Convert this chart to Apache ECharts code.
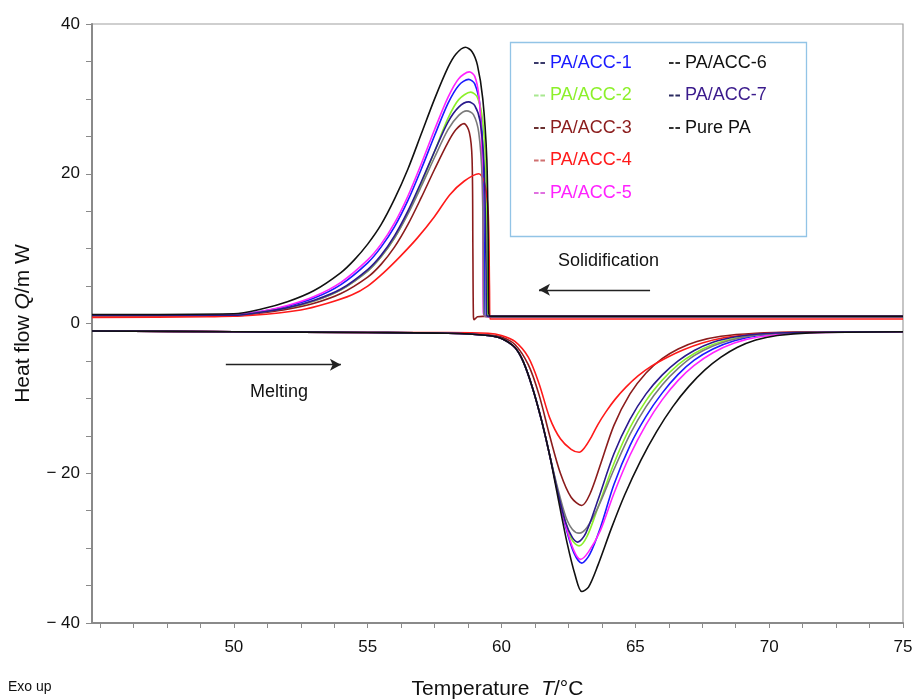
<!DOCTYPE html>
<html>
<head>
<meta charset="utf-8">
<script src="https://cdn.jsdelivr.net/npm/echarts@6/dist/echarts.min.js"></script>
<style>html,body{margin:0;padding:0;background:#fff}#chart{width:915px;height:699px}</style>
</head>
<body>
<div id="chart"></div>
<script>
// ---- Data (Temperature °C, Heat flow mW) ----
const seriesNames = ['PA/ACC-1','PA/ACC-2','PA/ACC-3','PA/ACC-4','PA/ACC-5','PA/ACC-6','PA/ACC-7','Pure PA'];
const xLabelValues = [50,55,60,65,70,75];
const yLabelValues = [-40,-20,0,20,40];

// Solidification (cooling) curves
const solid_ACC1 = [[44.7,1.1],[50,1.2],[51,1.6],[52,2.3],[53,3.4],[54,5.2],[55,8.1],[55.5,10.2],[56,12.9],[56.5,16.4],[57,20.6],[57.5,25.1],[58,29.4],[58.4,31.8],[58.77,32.6],[59.0,32.0],[59.2,29],[59.3,23],[59.35,12],[59.37,1.2],[59.45,0.95],[75,0.95]];
const solid_ACC2 = [[44.7,1.1],[50,1.1],[51,1.5],[52,2.0],[53,3.0],[54,4.5],[55,7.0],[55.5,8.9],[56,11.4],[56.5,14.7],[57,18.7],[57.5,23.0],[58,27.4],[58.4,29.9],[58.85,30.9],[59.1,30.2],[59.3,27],[59.42,20],[59.46,8],[59.48,1.2],[59.55,0.95],[75,0.95]];
const solid_ACC3 = [[44.7,1.0],[50,1.0],[51,1.4],[52,1.9],[53,2.7],[54,4.0],[55,6.2],[55.5,7.9],[56,10.2],[56.5,13.2],[57,16.8],[57.5,20.6],[58,24.2],[58.3,25.9],[58.6,26.7],[58.8,25.5],[58.9,22],[58.93,10],[58.95,1.0],[58.98,0.5],[59.1,0.9],[59.3,0.95],[75,0.95]];
const solid_ACC4 = [[44.7,0.8],[49,0.9],[50.7,1.1],[52.5,1.8],[53.5,2.7],[54.4,3.8],[55,5.0],[55.6,6.8],[56.2,8.9],[56.85,11.4],[57.5,14.3],[58.07,17.2],[58.6,19.0],[59.15,20.0],[59.35,19],[59.5,15],[59.55,5],[59.57,0.6],[75,0.6]];
const solid_ACC5 = [[44.7,1.1],[50,1.2],[51,1.6],[52,2.4],[53,3.6],[54,5.5],[55,8.5],[55.5,10.6],[56,13.4],[56.5,17.0],[57,21.3],[57.5,25.9],[58,30.2],[58.4,32.7],[58.8,33.6],[59.0,33.0],[59.15,30.5],[59.25,25],[59.3,15],[59.32,1.5],[59.4,0.95],[75,0.95]];
const solid_ACC6 = [[44.7,1.1],[50,1.1],[51,1.5],[52,2.1],[53,3.0],[54,4.5],[55,7.0],[55.5,8.9],[56,11.4],[56.5,14.6],[57,18.3],[57.5,22.2],[58,25.9],[58.4,27.8],[58.7,28.4],[58.95,27.9],[59.15,25.5],[59.28,19],[59.32,8],[59.34,1.2],[59.4,0.95],[75,0.95]];
const solid_ACC7 = [[44.7,1.1],[50,1.1],[51,1.5],[52,2.1],[53,3.1],[54,4.6],[55,7.2],[55.5,9.1],[56,11.7],[56.5,15.0],[57,18.9],[57.5,23.0],[58,26.9],[58.4,28.9],[58.77,29.6],[59.0,29.1],[59.2,27],[59.35,21],[59.42,8],[59.44,1.2],[59.5,0.95],[75,0.95]];
const solid_PA   = [[44.7,1.2],[50,1.3],[51,1.9],[52,2.9],[53,4.4],[54,6.8],[54.5,8.5],[55,10.6],[55.5,13.2],[56,16.6],[56.5,20.6],[57,25.3],[57.5,30.0],[58,34.2],[58.3,36.0],[58.65,36.9],[58.9,36.3],[59.1,34.5],[59.3,30],[59.45,22],[59.5,12],[59.52,1.5],[59.6,0.95],[75,0.95]];

// Melting (heating) curves
const melt_ACC1 = [[44.7,-1.0],[50,-1.1],[55,-1.2],[58,-1.3],[59.5,-1.6],[60,-2.0],[60.5,-3.2],[60.8,-5],[61.15,-8.5],[61.5,-13],[61.8,-17.6],[62.1,-22.5],[62.4,-27.2],[62.7,-30.6],[63.0,-32],[63.3,-30.8],[63.7,-27.2],[64.2,-21.5],[64.8,-16.3],[65.4,-12.4],[66.0,-9.3],[66.6,-6.8],[67.2,-4.9],[67.9,-3.4],[68.7,-2.3],[69.6,-1.6],[71,-1.2],[75,-1.1]];
const melt_ACC2 = [[44.7,-1.0],[50,-1.1],[55,-1.2],[58,-1.3],[59.5,-1.6],[60,-2.0],[60.5,-3.2],[60.8,-5],[61.15,-8.5],[61.5,-13],[61.8,-17.6],[62.1,-22.3],[62.4,-26.6],[62.65,-29.0],[62.9,-29.7],[63.2,-28.4],[63.6,-24.6],[64.2,-18.7],[64.8,-13.9],[65.4,-10.3],[66.0,-7.6],[66.6,-5.5],[67.2,-4.0],[67.9,-2.8],[68.7,-2.0],[69.6,-1.5],[71,-1.2],[75,-1.1]];
const melt_ACC3 = [[44.7,-1.0],[50,-1.1],[55,-1.2],[58,-1.3],[59.5,-1.5],[60,-1.8],[60.5,-2.8],[61,-5.5],[61.4,-9.5],[61.8,-15],[62.2,-20],[62.6,-23.2],[63.0,-24.3],[63.3,-22.8],[63.7,-18.8],[64.2,-13.6],[64.8,-9.4],[65.4,-6.6],[66.0,-4.7],[66.6,-3.4],[67.3,-2.4],[68.2,-1.7],[69.5,-1.3],[71,-1.15],[75,-1.1]];
const melt_ACC4 = [[44.7,-1.0],[50,-1.1],[55,-1.2],[58,-1.2],[59.5,-1.3],[60,-1.6],[60.5,-2.4],[61,-4.5],[61.4,-8],[61.8,-12.6],[62.2,-15.4],[62.6,-16.8],[62.9,-17.2],[63.1,-16.6],[63.35,-15.2],[63.6,-13.5],[63.9,-11.8],[64.25,-10.1],[64.65,-8.5],[65.1,-7.0],[65.6,-5.7],[66.2,-4.5],[66.8,-3.5],[67.5,-2.6],[68.3,-1.9],[69.2,-1.5],[70.5,-1.2],[75,-1.1]];
const melt_ACC5 = [[44.7,-1.0],[50,-1.1],[55,-1.2],[58,-1.3],[59.5,-1.6],[60,-2.0],[60.5,-3.2],[60.8,-5],[61.15,-8.5],[61.5,-13],[61.8,-17.6],[62.1,-22.5],[62.4,-27.0],[62.7,-30.3],[62.95,-31.5],[63.25,-30.5],[63.7,-27.6],[64.2,-22.7],[64.8,-17.6],[65.4,-13.5],[66.0,-10.2],[66.6,-7.6],[67.2,-5.6],[67.9,-3.9],[68.7,-2.6],[69.6,-1.8],[71,-1.3],[75,-1.1]];
const melt_ACC6 = [[44.7,-1.0],[50,-1.1],[55,-1.2],[58,-1.3],[59.5,-1.6],[60,-2.0],[60.5,-3.2],[60.8,-5],[61.15,-8.5],[61.5,-13],[61.8,-17.6],[62.1,-22],[62.4,-25.8],[62.65,-27.5],[62.9,-28],[63.2,-27.2],[63.6,-24.6],[64.2,-19.5],[64.8,-14.8],[65.4,-11.1],[66.0,-8.2],[66.6,-6.0],[67.2,-4.3],[67.9,-3.0],[68.7,-2.1],[69.6,-1.5],[71,-1.2],[75,-1.1]];
const melt_ACC7 = [[44.7,-1.0],[50,-1.1],[55,-1.2],[58,-1.3],[59.5,-1.6],[60,-2.0],[60.5,-3.2],[60.8,-5],[61.15,-8.5],[61.5,-13],[61.8,-17.6],[62.1,-22.5],[62.4,-26.6],[62.65,-28.6],[62.85,-29.2],[63.15,-28],[63.6,-23.6],[64.2,-17.4],[64.8,-12.8],[65.4,-9.4],[66.0,-6.9],[66.6,-5.0],[67.2,-3.6],[67.9,-2.5],[68.7,-1.8],[69.6,-1.4],[71,-1.2],[75,-1.1]];
const melt_PA   = [[44.7,-1.0],[50,-1.1],[55,-1.2],[58,-1.3],[59.5,-1.6],[60,-2.0],[60.5,-3.2],[60.8,-5],[61.15,-8.5],[61.5,-13],[61.8,-17.6],[62.15,-24],[62.45,-29.3],[62.75,-33.6],[63.0,-35.8],[63.25,-35.2],[63.6,-32.3],[64.1,-27.4],[64.6,-22.9],[65.2,-18.3],[65.8,-14.4],[66.4,-11.1],[67.0,-8.4],[67.6,-6.2],[68.2,-4.5],[68.8,-3.2],[69.5,-2.2],[70.3,-1.6],[71.5,-1.25],[75,-1.1]];

const solidData = [solid_ACC1, solid_ACC2, solid_ACC3, solid_ACC4, solid_ACC5, solid_ACC6, solid_ACC7, solid_PA];
const meltData  = [melt_ACC1, melt_ACC2, melt_ACC3, melt_ACC4, melt_ACC5, melt_ACC6, melt_ACC7, melt_PA];

// ---- Styles ----
const lineColors = ['#1a1aff','#8cf02a','#8b1c1c','#ff1a1a','#ff22ff','#7a7a7a','#2a1a8c','#111111'];
const textColors = ['#1a1aff','#8cf02a','#8b1c1c','#ff1a1a','#ff22ff','#111111','#3a1a8c','#111111'];
const iconColors = ['#3a3a6a','#a8e890','#6a3030','#d07070','#e070e0','#333333','#2a2a60','#333333'];
const FONT = 'Liberation Sans, Arial, sans-serif';

const xTicks = [];
for (let i = 0; i <= 24; i++) xTicks.push(45 + i * 1.25);
const yTicks = [];
for (let i = 0; i <= 16; i++) yTicks.push(-40 + i * 5);

const series = [];
seriesNames.forEach((name, i) => {
  [solidData[i], meltData[i]].forEach(d => {
    series.push({
      name: name, type: 'line', data: d, showSymbol: false, smooth: 0.3,
      lineStyle: { color: lineColors[i], width: 1.6 },
      itemStyle: { color: lineColors[i] },
      silent: true, animation: false, z: 2
    });
  });
});

// arrows as markLines in data coordinates
series.push({
  type: 'line', data: [], silent: true, animation: false,
  markLine: {
    silent: true, animation: false,
    symbol: ['none', 'arrow'], symbolSize: [9, 11],
    label: { show: false },
    lineStyle: { color: '#222', width: 1.4, type: 'solid' },
    data: [
      [{ coord: [65.55, 4.5] }, { coord: [61.4, 4.5] }],
      [{ coord: [49.7, -5.5] }, { coord: [54.0, -5.5] }]
    ]
  }
});

const iconPath = 'path://M0,0h5v2h-5z M7,0h5v2h-5z';
function legendItems(idx) {
  return idx.map(i => ({
    name: seriesNames[i], icon: iconPath,
    itemStyle: { color: iconColors[i] },
    textStyle: { color: textColors[i] }
  }));
}
const legendCommon = {
  orient: 'vertical', itemWidth: 11, itemHeight: 3, itemGap: 14.5, itemTextGap: 6,
  textStyle: { fontFamily: FONT, fontSize: 18 }, selectedMode: false, padding: 0
};

const option = {
  backgroundColor: '#ffffff',
  animation: false,
  grid: { left: 92, right: 12, top: 24, bottom: 76, outerBoundsMode: 'none', containLabel: false, show: true, borderColor: '#a0a0a0', borderWidth: 1.2, backgroundColor: 'transparent' },
  xAxis: {
    type: 'value', min: 44.7, max: 75,
    name: 'Temperature  {i|T}/°C', nameLocation: 'middle', nameGap: 56,
    nameTextStyle: { fontFamily: FONT, fontSize: 21, color: '#111', rich: { i: { fontStyle: 'italic', fontFamily: FONT, fontSize: 21, color: '#111' } } },
    axisLine: { show: true, onZero: false, lineStyle: { color: '#8a8a8a', width: 2 } },
    axisTick: { show: true, customValues: xTicks, length: 5, lineStyle: { color: '#8a8a8a', width: 1 } },
    axisLabel: { customValues: xLabelValues, fontFamily: FONT, fontSize: 17, color: '#111', margin: 16 },
    splitLine: { show: false }
  },
  yAxis: {
    type: 'value', min: -40, max: 40,
    name: 'Heat flow {i|Q}/m W', nameLocation: 'middle', nameGap: 58, nameRotate: 90,
    nameTextStyle: { fontFamily: FONT, fontSize: 21, color: '#111', rich: { i: { fontStyle: 'italic', fontFamily: FONT, fontSize: 21, color: '#111' } } },
    axisLine: { show: true, onZero: false, lineStyle: { color: '#8a8a8a', width: 2 } },
    axisTick: { show: true, customValues: yTicks, length: 6, lineStyle: { color: '#8a8a8a', width: 1 } },
    axisLabel: {
      customValues: yLabelValues, fontFamily: FONT, fontSize: 17, color: '#111', margin: 12,
      formatter: v => (v < 0 ? '\u2212 ' + Math.abs(v) : String(v))
    },
    splitLine: { show: false }
  },
  legend: [
    Object.assign({ left: 534, top: 54, data: legendItems([0,1,2,3,4]) }, legendCommon),
    Object.assign({ left: 669, top: 54, data: legendItems([5,6,7]) }, legendCommon)
  ],
  graphic: [
    { type: 'rect', shape: { x: 510.5, y: 42.5, width: 296, height: 194 }, style: { fill: 'rgba(0,0,0,0)', stroke: '#92c4e6', lineWidth: 1.3 }, z: 10, silent: true },
    { type: 'text', left: 558, top: 252, style: { text: 'Solidification', font: '18px ' + FONT, fill: '#111' }, silent: true },
    { type: 'text', left: 250, top: 383, style: { text: 'Melting', font: '18px ' + FONT, fill: '#111' }, silent: true },
    { type: 'text', left: 8, top: 680, style: { text: 'Exo up', font: '14px ' + FONT, fill: '#111' }, silent: true }
  ],
  series: series
};

const chart = echarts.init(document.getElementById('chart'), null, { renderer: 'canvas' });
chart.setOption(option);
</script>
</body>
</html>
